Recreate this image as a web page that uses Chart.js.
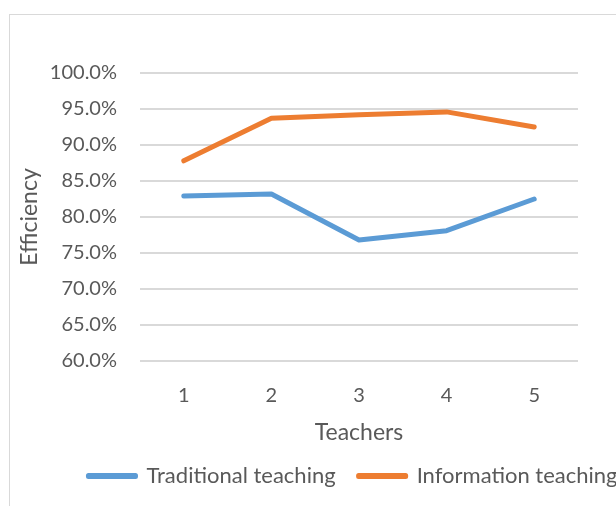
<!DOCTYPE html>
<html>
<head>
<meta charset="utf-8">
<script src="https://cdn.jsdelivr.net/npm/chart.js@4/dist/chart.umd.min.js"></script>
<style>
  html, body { margin: 0; padding: 0; background: #fff; overflow: hidden; width: 616px; height: 506px; }
  #frame { position: absolute; left: 9px; top: 14px; width: 700px; height: 540px; border: 1px solid #d9d9d9; }
  #myChart { position: absolute; left: 0; top: 0; }
</style>
</head>
<body>
<div id="frame"><canvas id="myChart" width="686" height="520"></canvas></div>
<script>
const teachers = ["1", "2", "3", "4", "5"];
const traditionalTeaching = [82.9, 83.2, 76.8, 78.1, 82.5];
const informationTeaching = [87.8, 93.7, 94.2, 94.6, 92.5];
const yTicks = [60, 65, 70, 75, 80, 85, 90, 95, 100];

const textColor = "#595959";
const fontFamily = "Lato, 'Open Sans', sans-serif";

let ctx = document.getElementById("myChart").getContext('2d');
let myChart = new Chart(ctx, {
    type: 'line',
    data: {
        labels: teachers,
        datasets: [
            {
                label: 'Traditional teaching',
                data: traditionalTeaching,
                borderColor: "#5b9bd5",
                backgroundColor: "#5b9bd5",
                borderWidth: 5,
                borderCapStyle: 'round',
                borderJoinStyle: 'round',
                pointRadius: 0,
                tension: 0
            },
            {
                label: 'Information teaching',
                data: informationTeaching,
                borderColor: "#ed7d31",
                backgroundColor: "#ed7d31",
                borderWidth: 5,
                borderCapStyle: 'round',
                borderJoinStyle: 'round',
                pointRadius: 0,
                tension: 0
            }
        ]
    },
    options: {
        responsive: false,
        animation: false,
        devicePixelRatio: 1,
        layout: { padding: { top: 58, bottom: 38, left: 0, right: 0 } },
        plugins: {
            tooltip: { enabled: false },
            legend: {
                position: 'bottom',
                labels: {
                    color: textColor,
                    font: { family: fontFamily, size: 22 },
                    boxWidth: 47,
                    boxHeight: 1,
                    padding: 23
                }
            }
        },
        scales: {
            x: {
                offset: true,
                grid: { display: false },
                border: { display: false },
                ticks: { color: textColor, font: { family: fontFamily, size: 20 }, padding: 15 },
                title: {
                    display: true,
                    text: 'Teachers',
                    color: textColor,
                    font: { family: fontFamily, size: 23 },
                    padding: { top: 0, bottom: -4 }
                },
                afterFit: (scale) => { scale.height = 81; }
            },
            y: {
                min: 60,
                max: 100,
                afterBuildTicks: (scale) => { scale.ticks = yTicks.map(v => ({ value: v })); },
                grid: { color: "#d9d9d9", lineWidth: 2, drawTicks: false },
                border: { display: false },
                ticks: {
                    color: textColor,
                    font: { family: fontFamily, size: 20 },
                    padding: 23,
                    callback: (value) => value.toFixed(1) + '%'
                },
                title: {
                    display: true,
                    text: 'Efficiency',
                    color: textColor,
                    font: { family: fontFamily, size: 23 },
                    padding: { top: 6, bottom: 0 }
                },
                afterFit: (scale) => { scale.width = 130; }
            },
            yRight: {
                position: 'right',
                display: true,
                grid: { display: false },
                border: { display: false },
                ticks: { display: false },
                afterFit: (scale) => { scale.width = 118; }
            }
        }
    }
});
</script>
</body>
</html>
